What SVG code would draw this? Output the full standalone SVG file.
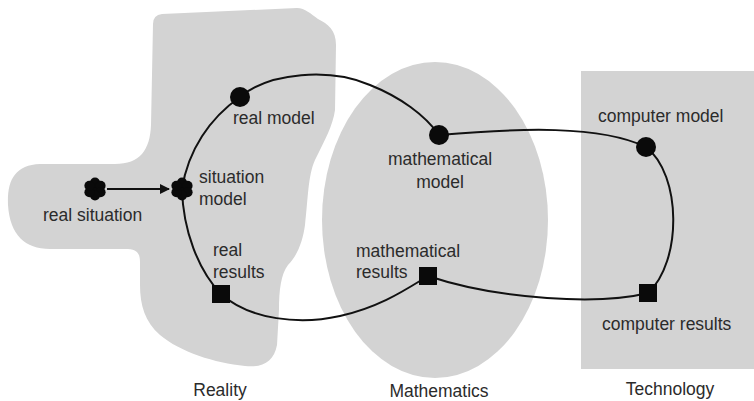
<svg xmlns="http://www.w3.org/2000/svg" width="754" height="401" viewBox="0 0 754 401">
<style>
.region{fill:#d3d3d3;stroke:none}
.lbl{font-family:"Liberation Sans",Arial,sans-serif;font-size:17.5px;fill:#2b2b2b}
.mid{text-anchor:middle}
.conn{fill:none;stroke:#111;stroke-width:2}
.node{fill:#0a0a0a}
</style>
<defs>
<marker id="arr" markerWidth="10" markerHeight="10" refX="9" refY="5" orient="auto" markerUnits="userSpaceOnUse">
<path d="M0,0 L10,5 L0,10 Z" fill="#111"/>
</marker>
<g id="flower">
<circle cx="0" cy="0" r="7"/>
<circle cx="0" cy="-6.5" r="5"/>
<circle cx="5.6" cy="-3.25" r="5"/>
<circle cx="5.6" cy="3.25" r="5"/>
<circle cx="0" cy="6.5" r="5"/>
<circle cx="-5.6" cy="3.25" r="5"/>
<circle cx="-5.6" cy="-3.25" r="5"/>
</g>
</defs>
<g id="reality">
<path class="region" d="M153,24 Q153,15 162,14 L297,8 C305,8 311,14 318,19 C328,24 336,30 336,45 L335,110 C333,125 325,140 315,160 C308,175 308,200 305,225 C303,240 298,255 288,265 C281,274 279,290 279,310 L277,345 C274,362 262,368 245,366 C215,363 180,352 160,335 C145,322 140,305 140,285 L140,262 C140,252 136,249 125,249 L50,249 C25,249 10,235 8,205 C7,180 15,165 40,164 L115,164 C140,164 150,150 151,125 Z"/>
<text class="lbl mid" x="220" y="396">Reality</text>
</g>
<g id="mathematics">
<ellipse class="region" cx="435" cy="220" rx="113" ry="158"/>
<text class="lbl mid" x="439" y="397">Mathematics</text>
</g>
<g id="technology">
<rect class="region" x="581" y="71" width="173" height="298"/>
<text class="lbl mid" x="670" y="395">Technology</text>
</g>
<g id="connectors">
<path class="conn" d="M240,97 C270,72 330,68 370,85 C400,97 425,115 439,135"/>
<path class="conn" d="M240,97 C210,118 188,150 182,189"/>
<path class="conn" d="M182,189 C183,230 198,270 221,294"/>
<path class="conn" d="M221,294 C250,320 300,325 340,316 C380,307 405,290 428,276"/>
<path class="conn" d="M439,135 C520,128 600,125 646,147"/>
<path class="conn" d="M646,147 C682,175 682,262 648,293"/>
<path class="conn" d="M648,293 C600,305 500,300 428,276"/>
<line class="conn" x1="107" y1="189" x2="169" y2="189" marker-end="url(#arr)"/>
</g>
<g id="real-situation">
<use href="#flower" x="95" y="189" class="node"/>
<text class="lbl" x="43" y="221">real situation</text>
</g>
<g id="situation-model">
<use href="#flower" x="182" y="189" class="node"/>
<text class="lbl" x="199" y="183">situation</text>
<text class="lbl" x="199" y="205">model</text>
</g>
<g id="real-model">
<circle class="node" cx="240" cy="97" r="10"/>
<text class="lbl" x="233" y="124">real model</text>
</g>
<g id="real-results">
<rect class="node" x="212" y="285" width="18" height="18"/>
<text class="lbl" x="213" y="256">real</text>
<text class="lbl" x="213" y="278">results</text>
</g>
<g id="mathematical-model">
<circle class="node" cx="439" cy="135" r="10"/>
<text class="lbl mid" x="440" y="165">mathematical</text>
<text class="lbl mid" x="440" y="188">model</text>
</g>
<g id="mathematical-results">
<rect class="node" x="419" y="267" width="18" height="18"/>
<text class="lbl" x="356" y="257">mathematical</text>
<text class="lbl" x="356" y="278">results</text>
</g>
<g id="computer-model">
<circle class="node" cx="646" cy="147" r="10"/>
<text class="lbl" x="598" y="122">computer model</text>
</g>
<g id="computer-results">
<rect class="node" x="639" y="284" width="18" height="18"/>
<text class="lbl" x="602" y="330">computer results</text>
</g>
</svg>
